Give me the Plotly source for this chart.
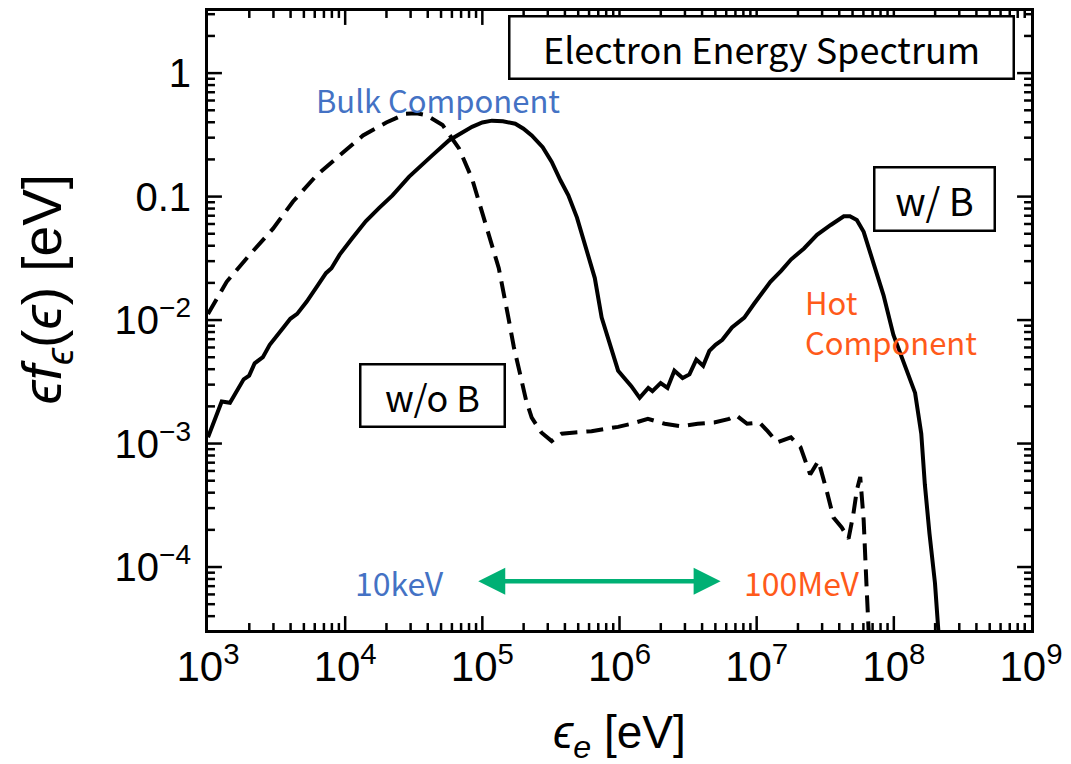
import numpy as np
import plotly.graph_objects as go

# ---- data (log10 values) ----
logE_withB = [3.00, 3.10, 3.16, 3.26, 3.30, 3.34, 3.40, 3.45, 3.55, 3.60, 3.65, 3.72, 3.80, 3.86,
              3.90, 3.96, 4.05, 4.15, 4.25, 4.345, 4.465, 4.55, 4.635, 4.756, 4.85, 4.925, 5.00,
              5.07, 5.15, 5.24, 5.30, 5.36, 5.44, 5.506, 5.57, 5.627, 5.69, 5.75, 5.82, 5.87, 5.92,
              5.99, 6.086, 6.147, 6.21, 6.24, 6.30, 6.35, 6.40, 6.46, 6.51, 6.56, 6.61, 6.655,
              6.70, 6.75, 6.82, 6.91, 6.98, 7.05, 7.10, 7.18, 7.25, 7.345, 7.44, 7.54, 7.60,
              7.635, 7.68, 7.73, 7.78, 7.85, 7.925, 7.997, 8.07, 8.155, 8.20, 8.226, 8.26, 8.30, 8.33]
logF_withB = [-2.95, -2.66, -2.67, -2.48, -2.45, -2.35, -2.30, -2.20, -2.06, -1.99, -1.95, -1.85,
              -1.72, -1.62, -1.58, -1.47, -1.34, -1.20, -1.09, -0.99, -0.84, -0.75, -0.666, -0.545,
              -0.48, -0.435, -0.40, -0.385, -0.39, -0.41, -0.45, -0.505, -0.60, -0.72, -0.87, -0.99,
              -1.17, -1.39, -1.66, -1.98, -2.17, -2.41, -2.535, -2.63, -2.55, -2.575, -2.51, -2.55,
              -2.41, -2.47, -2.44, -2.32, -2.37, -2.25, -2.20, -2.16, -2.06, -1.98, -1.87, -1.76,
              -1.69, -1.60, -1.51, -1.42, -1.31, -1.23, -1.18, -1.16, -1.16, -1.19, -1.285, -1.53,
              -1.80, -2.12, -2.33, -2.59, -2.92, -3.33, -3.73, -4.13, -4.60]

logE_noB = [3.00, 3.136, 3.305, 3.474, 3.62, 3.79, 3.96, 4.13, 4.30, 4.44, 4.52, 4.59, 4.71, 4.83,
            4.925, 5.02, 5.12, 5.19, 5.23, 5.276, 5.32, 5.36, 5.43, 5.506, 5.578, 5.675, 5.796,
            5.90, 5.99, 6.086, 6.207, 6.33, 6.45, 6.57, 6.69, 6.80, 6.85, 6.93, 7.02, 7.08, 7.15,
            7.25, 7.32, 7.39, 7.45, 7.51, 7.56, 7.62, 7.67, 7.705, 7.73, 7.755, 7.78, 7.80, 7.82]
logF_noB = [-1.95, -1.69, -1.47, -1.26, -1.04, -0.83, -0.666, -0.505, -0.40, -0.33, -0.325, -0.34,
            -0.42, -0.61, -0.855, -1.20, -1.58, -1.98, -2.22, -2.44, -2.655, -2.79, -2.91, -2.98,
            -2.92, -2.91, -2.90, -2.88, -2.865, -2.84, -2.80, -2.84, -2.86, -2.84, -2.83, -2.80,
            -2.77, -2.84, -2.83, -2.90, -2.99, -2.95, -3.03, -3.25, -3.14, -3.38, -3.60, -3.68,
            -3.77, -3.57, -3.38, -3.27, -3.62, -4.13, -4.60]

x_tickvals = [1e3, 1e4, 1e5, 1e6, 1e7, 1e8, 1e9]
x_ticktext = ["10<sup>3</sup>", "10<sup>4</sup>", "10<sup>5</sup>", "10<sup>6</sup>",
              "10<sup>7</sup>", "10<sup>8</sup>", "10<sup>9</sup>"]
y_tickvals = [1e-4, 1e-3, 1e-2, 1e-1, 1]
y_ticktext = ["10<sup>−4</sup>", "10<sup>−3</sup>", "10<sup>−2</sup>", "0.1", "1"]
x_decades = [3, 4, 5, 6, 7, 8]
y_decades = [-5, -4, -3, -2, -1, 0]
minor_digits = [2, 3, 4, 5, 6, 7, 8, 9]

X_RANGE = [3, 9]
Y_RANGE = [-4.51, 0.503]

E_withB = 10 ** np.array(logE_withB)
F_withB = 10 ** np.array(logF_withB)
E_noB = 10 ** np.array(logE_noB)
F_noB = 10 ** np.array(logF_noB)

x_minor = [d * 10.0 ** k for k in x_decades for d in minor_digits]
y_minor = [d * 10.0 ** k for k in y_decades for d in minor_digits]

BLUE = "#4472C4"
ORANGE = "#FF5A1A"
GREEN = "#00B074"
TXT_FONT = "Noto Sans CJK JP, Noto Sans, sans-serif"

PLOT_W, PLOT_H = 827, 622

fig = go.Figure()
fig.add_trace(go.Scatter(x=E_noB, y=F_noB, mode="lines",
                         line=dict(color="black", width=4, dash="17px,9px"),
                         showlegend=False, cliponaxis=True))
fig.add_trace(go.Scatter(x=E_withB, y=F_withB, mode="lines",
                         line=dict(color="black", width=4),
                         showlegend=False, cliponaxis=True))

axis_common = dict(
    type="log", showline=True, linecolor="black", linewidth=3, mirror=True,
    ticks="", showgrid=False, zeroline=False,
)
fig.update_xaxes(**axis_common, range=X_RANGE, tickmode="array",
                 tickvals=x_tickvals, ticktext=x_ticktext, ticklabelstandoff=-2,
                 tickfont=dict(family="Liberation Sans, sans-serif", size=42, color="black"))
fig.update_yaxes(**axis_common, range=Y_RANGE, tickmode="array",
                 tickvals=y_tickvals, ticktext=y_ticktext, ticklabelstandoff=6,
                 tickfont=dict(family="Liberation Sans, sans-serif", size=40, color="black"))

# ---- tick marks on all four sides (inside), placed from the tick value lists ----
def fx(v):
    return (np.log10(v) - X_RANGE[0]) / (X_RANGE[1] - X_RANGE[0])

def fy(v):
    return (np.log10(v) - Y_RANGE[0]) / (Y_RANGE[1] - Y_RANGE[0])

shapes = []
tick_line = dict(color="black", width=2.5)
for vals, length in ((x_tickvals, 14), (x_minor, 7)):
    for v in vals:
        p = fx(v)
        if 0 < p < 1:
            h = length / PLOT_H
            shapes.append(dict(type="line", xref="x domain", yref="y domain",
                               x0=p, x1=p, y0=0, y1=h, line=tick_line))
            shapes.append(dict(type="line", xref="x domain", yref="y domain",
                               x0=p, x1=p, y0=1, y1=1 - h, line=tick_line))
for vals, length in ((y_tickvals, 14), (y_minor, 7)):
    for v in vals:
        p = fy(v)
        if 0 < p < 1:
            w = length / PLOT_W
            shapes.append(dict(type="line", xref="x domain", yref="y domain",
                               x0=0, x1=w, y0=p, y1=p, line=tick_line))
            shapes.append(dict(type="line", xref="x domain", yref="y domain",
                               x0=1, x1=1 - w, y0=p, y1=p, line=tick_line))

def lx(px):
    return 3 + (px - 208) / 137.8

def ly(py):
    return -(py - 70.7) / 124.0

annots = []
annots.append(dict(x=lx(764), y=ly(45), xref="x", yref="y", text="Electron Energy Spectrum",
                   showarrow=False, font=dict(family=TXT_FONT, size=36, color="black"),
                   bordercolor="black", borderwidth=2.5, width=500, height=58, bgcolor="white"))
annots.append(dict(x=lx(938), y=ly(196.7), xref="x", yref="y", text="w/ B",
                   showarrow=False, font=dict(family=TXT_FONT, size=38, color="black"),
                   bordercolor="black", borderwidth=2.5, width=116, height=59, bgcolor="white"))
annots.append(dict(x=lx(433.7), y=ly(394.5), xref="x", yref="y", text="w/o B",
                   showarrow=False, font=dict(family=TXT_FONT, size=36, color="black"),
                   bordercolor="black", borderwidth=2.5, width=140, height=58, bgcolor="white"))
annots.append(dict(x=lx(439), y=ly(97), xref="x", yref="y", text="Bulk Component",
                   showarrow=False, font=dict(family=TXT_FONT, size=31, color=BLUE)))
annots.append(dict(x=lx(806), y=ly(320), xref="x", yref="y", text="Hot<br>Component",
                   xanchor="left", align="left",
                   showarrow=False, font=dict(family=TXT_FONT, size=31, color=ORANGE)))
annots.append(dict(x=lx(400), y=ly(581.7), xref="x", yref="y", text="10keV",
                   showarrow=False, font=dict(family=TXT_FONT, size=32, color=BLUE)))
annots.append(dict(x=lx(804), y=ly(581.7), xref="x", yref="y", text="100MeV",
                   showarrow=False, font=dict(family=TXT_FONT, size=32, color=ORANGE)))
annots.append(dict(x=lx(723), y=ly(581), ax=lx(478), ay=ly(581), xref="x", yref="y",
                   axref="x", ayref="y", text="", showarrow=True, arrowhead=2,
                   arrowside="end+start", arrowsize=1.2, arrowwidth=4.5, arrowcolor=GREEN))
annots.append(dict(x=(45 - 208) / 827, y=(630 - 287) / 622, xref="paper", yref="paper",
                   xanchor="center", yanchor="middle",
                   text="<i>ϵf<sub>ϵ</sub></i>(<i>ϵ</i>) [eV]", textangle=-90, showarrow=False,
                   font=dict(family="Liberation Sans, sans-serif", size=55, color="black")))
annots.append(dict(x=(622 - 208) / 827, y=(630 - 736) / 622, xref="paper", yref="paper",
                   xanchor="center", yanchor="middle",
                   text="<i>ϵ<sub>e</sub></i> [eV]", showarrow=False,
                   font=dict(family="Liberation Sans, sans-serif", size=46, color="black")))

fig.update_layout(
    width=1071, height=764,
    margin=dict(l=208, r=36, t=8, b=134),
    paper_bgcolor="white", plot_bgcolor="white",
    annotations=annots, shapes=shapes, showlegend=False,
)

fig.write_html("out.html")
